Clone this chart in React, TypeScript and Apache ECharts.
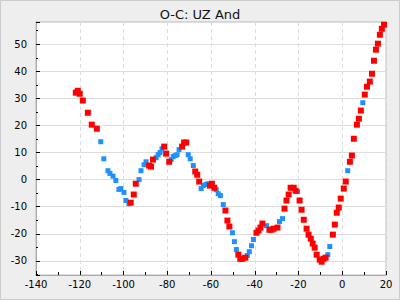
import React, { useEffect, useRef } from "react";
import * as echarts from "echarts";

const titleText = "O-C: UZ And";

const redX = [
  -121.8, -120.9, -120.0, -118.6, -116.3, -114.5, -112.2, -96.7, -95.3, -94.4,
  -88.3, -87.4, -86.5, -81.4, -80.5, -79.1, -73.2, -72.3, -71.3, -67.2,
  -66.3, -65.4, -60.5, -59.6, -58.5, -53.4, -52.5, -51.6, -47.5, -46.6,
  -45.6, -44.3, -39.2, -38.3, -37.4, -36.5, -33.3, -32.3, -31.4, -29.6,
  -26.4, -25.5, -24.5, -23.6, -22.2, -21.3, -19.5, -18.6, -17.6, -16.3,
  -15.4, -14.4, -13.5, -12.6, -11.7, -10.3, -9.4, -8.5, -7.6, -4.3,
  -3.4, -2.5, -1.6, -0.7, 0.7, 1.6, 3.5, 4.4, 5.3, 6.7,
  7.6, 8.5, 10.3, 11.3, 12.6, 13.6, 14.5, 15.4, 16.3, 17.2,
  18.1, 19.1,
];
const redY = [
  32.1, 32.8, 31.7, 29.2, 24.7, 20.3, 18.8, -8.5, -5.5, -1.5,
  5.2, 4.8, 7.4, 12.2, 9.6, 6.6, 12.2, 13.7, 13.7, 3.0,
  1.8, -0.7, -2.2, -1.5, -3.0, -11.4, -15.1, -17.3, -27.7, -29.2,
  -29.2, -28.8, -19.6, -18.8, -17.7, -16.2, -18.5, -18.5, -18.1, -17.7,
  -10.7, -7.7, -5.5, -3.0, -3.0, -4.1, -7.7, -11.1, -14.8, -18.1,
  -20.3, -21.8, -23.6, -25.1, -27.7, -29.5, -30.3, -29.2, -28.8, -20.3,
  -16.6, -12.2, -10.3, -7.0, -3.3, -0.7, 6.6, 8.9, 15.1, 20.3,
  22.5, 25.5, 31.4, 34.3, 36.2, 39.1, 43.9, 48.0, 50.2, 53.5,
  55.7, 57.2,
];

const blueX = [
  -110.4, -109.0, -107.1, -106.2, -104.8, -103.5, -102.1, -101.2, -99.8, -98.9,
  -97.5, -92.9, -92.0, -90.6, -89.7, -85.1, -84.2, -83.3, -82.4, -78.2,
  -77.3, -76.4, -75.5, -74.6, -70.4, -69.5, -68.1, -64.5, -63.5, -62.3,
  -61.4, -57.6, -56.7, -55.7, -54.4, -50.2, -49.3, -48.4, -43.4, -42.5,
  -41.5, -40.6, -34.6, -28.7, -27.3, -20.4, -6.6, -5.7, 2.5, 9.4,
];
const blueY = [
  14.0, 7.7, 3.3, 2.3, 1.3, -0.3, -3.6, -3.3, -4.7, -7.7,
  -8.9, 0.0, 3.3, 5.5, 6.6, 8.1, 9.2, 10.0, 11.4, 7.4,
  8.5, 8.9, 9.2, 11.1, 9.2, 7.7, 5.2, -3.3, -2.2, -1.8,
  -1.5, -3.7, -5.2, -5.9, -9.2, -19.6, -22.9, -25.8, -28.0, -26.6,
  -24.4, -22.1, -17.0, -15.5, -14.4, -4.4, -27.7, -24.7, 3.3, 28.4,
];

const FONT = "DejaVu Sans";

export default function App() {
  const ref = useRef<HTMLDivElement>(null);
  useEffect(() => {
    if (!ref.current) return;
    const chart = echarts.init(ref.current, null, { renderer: "svg" });
    const red = redX.map((x, i) => [x, redY[i]]);
    const blue = blueX.map((x, i) => [x, blueY[i]]);
    chart.setOption({
      animation: false,
      backgroundColor: "#eeeeee",
      title: {
        text: titleText,
        left: "center",
        top: 3,
        textStyle: { fontFamily: FONT, fontSize: 13, fontWeight: "normal", color: "#111" },
      },
      graphic: [
        {
          type: "rect",
          shape: { x: 0.5, y: 0.5, width: 399, height: 299 },
          style: { fill: "none", stroke: "#cccccc", lineWidth: 1 },
          silent: true,
        },
      ],
      grid: {
        left: 36,
        right: 14,
        top: 22,
        bottom: 25,
        show: true,
        backgroundColor: "#ffffff",
        borderColor: "#bbbbbb",
        borderWidth: 1,
      },
      xAxis: {
        type: "value",
        min: -140,
        max: 20,
        interval: 20,
        axisLine: { show: true, onZero: false, lineStyle: { color: "#aaaaaa" } },
        axisTick: { show: true, inside: true, length: 4, lineStyle: { color: "#000" } },
        minorTick: { show: true, splitNumber: 2, length: 3, lineStyle: { color: "#000" } },
        splitLine: { show: true, lineStyle: { color: "#dddddd", type: [4, 3] } },
        axisLabel: { fontFamily: FONT, fontSize: 10, color: "#000", margin: 4 },
      },
      yAxis: {
        type: "value",
        min: -35.2,
        max: 58.2,
        splitNumber: 9,
        axisLine: { show: true, onZero: false, lineStyle: { color: "#aaaaaa" } },
        axisTick: { show: true, inside: true, length: 4, lineStyle: { color: "#000" } },
        minorTick: { show: true, splitNumber: 2, length: 2, lineStyle: { color: "#000" } },
        splitLine: { show: true, lineStyle: { color: "#dddddd", type: "solid" } },
        axisLabel: {
          fontFamily: FONT,
          fontSize: 10,
          color: "#000",
          margin: 9,
          showMinLabel: false,
          showMaxLabel: false,
        },
      },
      series: [
        {
          type: "scatter",
          data: blue,
          symbol: "rect",
          symbolSize: 5,
          itemStyle: { color: "#1e90ff", opacity: 1 },
        },
        {
          type: "scatter",
          data: red,
          symbol: "rect",
          symbolSize: 6,
          itemStyle: { color: "#ff0000", opacity: 1 },
        },
      ],
    });
    return () => chart.dispose();
  }, []);
  return (
    <div
      ref={ref}
      style={{ position: "fixed", left: 0, top: 0, width: 400, height: 300 }}
    />
  );
}
